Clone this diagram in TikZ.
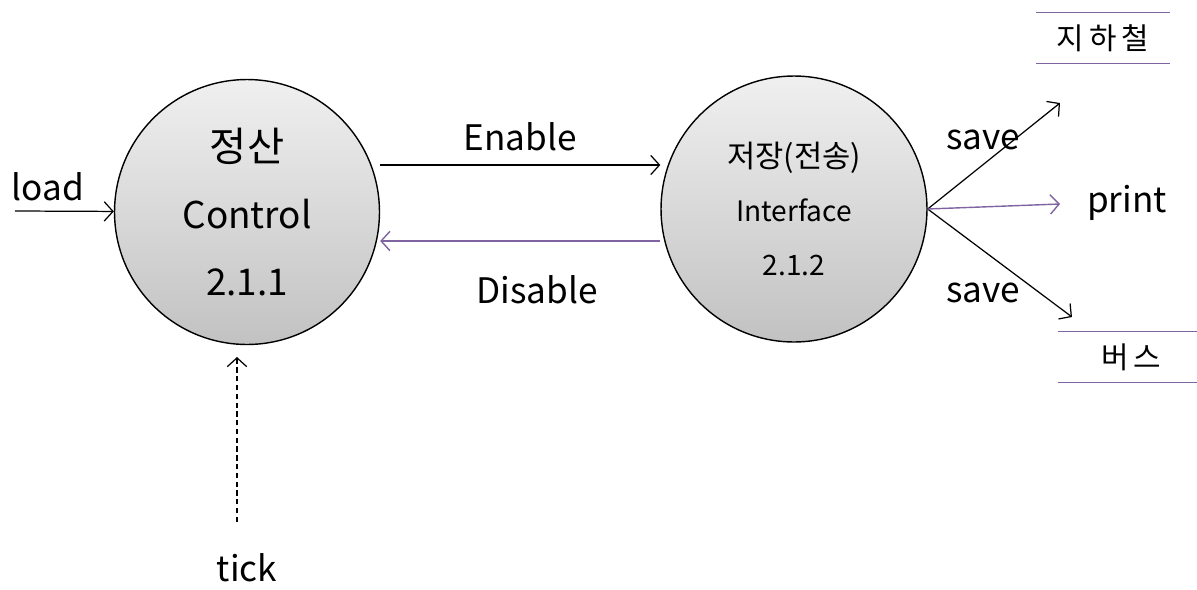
\documentclass[tikz,border=0pt]{standalone}
\usepackage{fontspec}
\setmainfont{Noto Sans CJK KR}
\usetikzlibrary{arrows.meta}
\definecolor{flowpurple}{RGB}{128,100,162}

\begin{document}
\begin{tikzpicture}[x=0.02cm,y=-0.02cm,
    >={Straight Barb[length=5pt,width=11pt]},
    process/.style={circle,draw=black,line width=0.8pt,top color=gray!12,bottom color=gray!48,align=center,inner sep=0pt},
    flow/.style={->,line width=0.7pt},
    pflow/.style={->,line width=0.8pt,flowpurple},
    lbl/.style={font=\fontsize{20}{24}\selectfont},
    store/.style={minimum height=1cm,font=\fontsize{17}{20}\selectfont}]
    \useasboundingbox (0,0) rectangle (1197,589);

    \node[process,minimum size=5.3cm,font=\fontsize{21}{38}\selectfont] (ctrl) at (247,212) {{\fontsize{23}{38}\selectfont 정산}\\Control\\2.1.1};
    \node[process,minimum size=5.32cm,font=\fontsize{16}{30.5}\selectfont] (intf) at (794,209) {{\fontsize{17.5}{30.5}\selectfont 저장(전송)}\\Interface\\2.1.2};

    \node[lbl] (load) at (48,187) {load};
    \node[lbl] (tick) at (247,568) {tick};
    \node[lbl] (enable) at (520,137) {Enable};
    \node[lbl] (disable) at (537,290) {Disable};
    \node[lbl] (saveup) at (983,140) {save};
    \node[lbl] (savedown) at (983,293) {save};
    \node[lbl] (print) at (1127,203) {print};

    \node[store,minimum width=2.66cm] (subway) at (1103,38) {지\,하\,철};
    \node[store,minimum width=2.9cm] (bus) at (1131,357) {버\,스};
    \foreach \st in {subway,bus}{
    \draw[flowpurple,line width=0.8pt] (\st.north west) -- (\st.north east);
    \draw[flowpurple,line width=0.8pt] (\st.south west) -- (\st.south east);
    }

    \coordinate (loadsrc) at (15,211);
    \coordinate (ticksrc) at (237,522);
    \coordinate (tickend) at (237,357);
    \coordinate (subwayend) at (1060,103);
    \coordinate (printend) at (1060,204);
    \coordinate (busend) at (1072,317);

    \draw[flow] (loadsrc) -- (ctrl);
    \draw[flow,dashed,dash pattern=on 3pt off 2pt] (ticksrc) -- (tickend);
    \draw[flow] (ctrl.east |- 0,165) -- (intf.west |- 0,165);
    \draw[pflow] (intf.west |- 0,241) -- (ctrl.east |- 0,241);
    \foreach \e in {subwayend,busend}{
    \draw[flow] (intf.east) -- (\e);
    }
    \draw[pflow] (intf.east) -- (printend);
\end{tikzpicture}
\end{document}
